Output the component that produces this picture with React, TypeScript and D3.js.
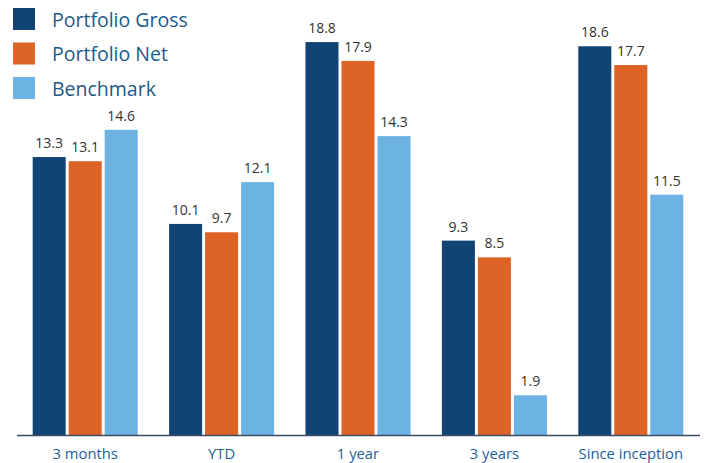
import React from "react";
import * as d3 from "d3";

const categories = ["3 months", "YTD", "1 year", "3 years", "Since inception"];
const seriesNames = ["Portfolio Gross", "Portfolio Net", "Benchmark"];
const gross = [13.3, 10.1, 18.8, 9.3, 18.6];
const net = [13.1, 9.7, 17.9, 8.5, 17.7];
const benchmark = [14.6, 12.1, 14.3, 1.9, 11.5];
const colors = ["#114374", "#dd6327", "#6cb3e3"];

const W = 705;
const H = 463;
const FONT = "'Open Sans', 'Noto Sans', sans-serif";

export default function App() {
  const series = [gross, net, benchmark];
  const x0 = d3
    .scaleBand<string>()
    .domain(categories)
    .range([17, 699])
    .paddingInner(0.23)
    .paddingOuter(0.115);
  const x1 = d3
    .scaleBand<string>()
    .domain(seriesNames)
    .range([0, x0.bandwidth()])
    .paddingInner(0.083);
  const y = d3.scaleLinear().domain([0, 20]).range([435, 17]);

  return (
    <svg width={W} height={H} style={{ position: "absolute", left: 0, top: 0 }}>
      <rect width={W} height={H} fill="#fff" />
      {categories.map((c, i) => (
        <g key={c} transform={`translate(${x0(c)},0)`}>
          {seriesNames.map((s, j) => {
            const v = series[j][i];
            const bx = x1(s)!;
            return (
              <g key={s}>
                <rect
                  x={bx}
                  y={y(v)}
                  width={x1.bandwidth()}
                  height={y(0) - y(v)}
                  fill={colors[j]}
                />
                <text
                  x={bx + x1.bandwidth() / 2}
                  y={y(v) - 9}
                  textAnchor="middle"
                  fontFamily={FONT}
                  fontSize={14}
                  fill="#333"
                >
                  {v.toFixed(1)}
                </text>
              </g>
            );
          })}
          <text
            x={x0.bandwidth() / 2}
            y={459}
            textAnchor="middle"
            fontFamily={FONT}
            fontSize={14.8}
            fill="#1f5f93"
          >
            {c}
          </text>
        </g>
      ))}
      <line x1={17} x2={700} y1={435.5} y2={435.5} stroke="#3c4b66" strokeWidth={1.5} />
      {seriesNames.map((s, j) => (
        <g key={s} transform={`translate(13,${8 + j * 34.5})`}>
          <rect width={22} height={22} fill={colors[j]} />
          <text x={39} y={18.5} fontFamily={FONT} fontSize={19.5} fill="#1c5a8c">
            {s}
          </text>
        </g>
      ))}
    </svg>
  );
}
